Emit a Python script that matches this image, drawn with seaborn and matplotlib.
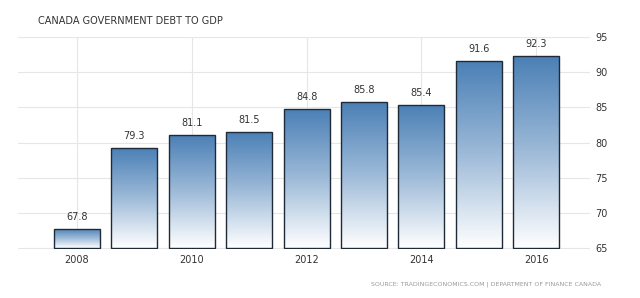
import matplotlib
matplotlib.use("Agg")
import matplotlib.pyplot as plt
import seaborn as sns
import numpy as np
import pandas as pd
from matplotlib.colors import LinearSegmentedColormap

years = [2008, 2009, 2010, 2011, 2012, 2013, 2014, 2015, 2016]
debt = [67.8, 79.3, 81.1, 81.5, 84.8, 85.8, 85.4, 91.6, 92.3]
xtick_labels = ["2008", "", "2010", "", "2012", "", "2014", "", "2016"]
yticks = [65, 70, 75, 80, 85, 90, 95]
baseline = 65

df = pd.DataFrame({"year": [str(y) for y in years], "debt": debt})

sns.set_style("white")
fig = plt.figure(figsize=(6.4, 2.98), dpi=100)
ax = fig.add_axes([0.028, 0.164, 0.894, 0.712])

sns.barplot(data=df, x="year", y="debt", ax=ax, color="#4a7fb5",
            width=0.8, edgecolor="#1f2a38", linewidth=1.0, saturation=1)

ax.set_ylim(64.9, 95)
ax.set_xlim(-1.03, 8.94)

cmap = LinearSegmentedColormap.from_list("grad", ["#ffffff", "#9dbad8", "#4a7fb5"])
grad = np.linspace(0, 1, 256).reshape(-1, 1)
for p in list(ax.patches):
    x0, w = p.get_x(), p.get_width()
    top = p.get_y() + p.get_height()
    p.set_y(baseline)
    p.set_height(top - baseline)
    im = ax.imshow(grad, extent=[x0, x0 + w, baseline, top], origin="lower",
                   aspect="auto", cmap=cmap, zorder=p.get_zorder() + 0.1)
    im.set_clip_path(p)
    p.set_facecolor("none")
    p.set_zorder(p.get_zorder() + 0.2)

for i, v in enumerate(debt):
    ax.text(i, v + 1.0, f"{v:.1f}", ha="center", va="bottom",
            fontsize=7, color="#333333")

ax.yaxis.tick_right()
ax.set_yticks(yticks)
ax.set_yticklabels([str(t) for t in yticks], fontsize=7, color="#333333")
ax.set_xticks(range(len(years)))
ax.set_xticklabels(xtick_labels, fontsize=7, color="#333333")
ax.tick_params(axis="both", length=0, pad=4)
ax.set_xlabel("")
ax.set_ylabel("")

ax.grid(True, axis="y", color="#e6e6e6", linewidth=0.8)
for xv in [0, 2, 4, 6, 8]:
    ax.axvline(xv, color="#e6e6e6", linewidth=0.8, zorder=0)
ax.set_axisbelow(True)
for s in ax.spines.values():
    s.set_visible(False)

fig.text(0.059, 0.93, "CANADA GOVERNMENT DEBT TO GDP", fontsize=7,
         color="#333333", ha="left", va="center")
fig.text(0.94, 0.045, "SOURCE: TRADINGECONOMICS.COM | DEPARTMENT OF FINANCE CANADA",
         fontsize=4.5, color="#999999", ha="right", va="center")

fig.savefig("out.png", dpi=100)
